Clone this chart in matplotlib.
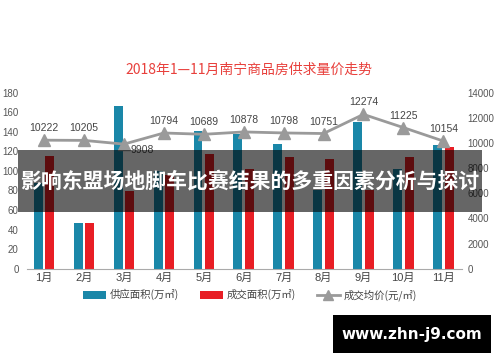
import matplotlib
matplotlib.use("Agg")
import matplotlib.pyplot as plt
from matplotlib.patches import Patch, Rectangle
from matplotlib.lines import Line2D
import numpy as np

plt.rcParams['font.family'] = ['Liberation Sans', 'Noto Sans CJK SC', 'DejaVu Sans']

months = ["1月", "2月", "3月", "4月", "5月", "6月", "7月", "8月", "9月", "10月", "11月"]
supply = [88, 47, 166, 100, 141, 138, 128, 80, 150, 102, 126]
sold = [115, 47, 79, 96, 117, 102, 114, 112, 80, 114, 124]
price = [10222, 10205, 9908, 10794, 10689, 10878, 10798, 10751, 12274, 11225, 10154]
left_ticks = [0, 20, 40, 60, 80, 100, 120, 140, 160, 180]
right_ticks = [0, 2000, 4000, 6000, 8000, 10000, 12000, 14000]

title = "2018年1—11月南宁商品房供求量价走势"
legend_labels = ["供应面积(万㎡)", "成交面积(万㎡)", "成交均价(元/㎡)"]
overlay_text = "影响东盟场地脚车比赛结果的多重因素分析与探讨"
watermark = "www.zhn-j9.com"

BLUE = "#1a87a8"
RED = "#e81e25"
GRAY = "#9a9a9a"
TXT = "#555555"

fig = plt.figure(figsize=(5, 3.62), dpi=100)
ax = fig.add_axes([0.054, 0.2577, 0.87, 0.4863])
ax2 = ax.twinx()

x = np.arange(len(months))
w = 0.225
off = 0.145
ax.bar(x - off, supply, width=w, color=BLUE, zorder=2)
ax.bar(x + off, sold, width=w, color=RED, zorder=2)

ax.set_ylim(0, 180)
ax.set_yticks(left_ticks)
ax.set_xlim(-0.43, 10.47)
ax.set_xticks(x)
ax.set_xticklabels(months, fontsize=8, color="#444444")
ax.tick_params(axis='x', length=0, pad=3)
ax.tick_params(axis='y', length=0, pad=6, labelsize=7, labelcolor=TXT)
for s in ['top', 'right', 'left']:
    ax.spines[s].set_visible(False)
ax.spines['bottom'].set_color("#aaaaaa")

ax2.set_ylim(0, 14000)
ax2.set_yticks(right_ticks)
ax2.tick_params(axis='y', length=0, pad=4, labelsize=7, labelcolor=TXT)
for s in ['top', 'right', 'left', 'bottom']:
    ax2.spines[s].set_visible(False)

ax2.plot(x, price, color=GRAY, lw=2, marker='^', markersize=8, zorder=3)
for i, v in enumerate(price):
    if i == 2:
        ax2.annotate(str(v), (x[i], v), xytext=(13, -4), textcoords='offset points',
                     ha='center', va='center', fontsize=7.5, color="#444444")
    else:
        ax2.annotate(str(v), (x[i], v), xytext=(0, 5), textcoords='offset points',
                     ha='center', va='bottom', fontsize=7.5, color="#444444")

fig.text(0.497, 1 - 70 / 362, title, ha='center', va='center', fontsize=10,
         color="#e8403c", family=['Noto Sans CJK SC', 'DejaVu Sans'])

handles = [Patch(facecolor=BLUE), Patch(facecolor=RED),
           Line2D([0], [0], color=GRAY, lw=2, marker='^', markersize=7)]
fig.legend(handles, legend_labels, loc='center', bbox_to_anchor=(0.5, 1 - 295 / 362),
           ncol=3, frameon=False, fontsize=7.5, handlelength=2.2, handleheight=0.8,
           columnspacing=2.0, handletextpad=0.4, labelcolor="#444444",
           prop={'family': ['Noto Sans CJK SC', 'DejaVu Sans'], 'size': 7.5})

# overlay band
fig.patches.append(Rectangle((18 / 500, 1 - 212 / 362), 464 / 500, 62 / 362,
                             transform=fig.transFigure, facecolor='black', alpha=0.6,
                             zorder=10))
fig.text(0.5, 1 - 181 / 362, overlay_text, ha='center', va='center', fontsize=15,
         color='white', fontweight='bold', zorder=11,
         family=['Noto Sans CJK SC', 'DejaVu Sans'])

# watermark box
fig.patches.append(Rectangle((333 / 500, 1 - 353 / 362), 158 / 500, 38 / 362,
                             transform=fig.transFigure, facecolor='black', zorder=10))
fig.text(412 / 500, 1 - 334 / 362, watermark, ha='center', va='center', fontsize=11,
         color='white', fontweight='bold', zorder=11, family='DejaVu Sans')

fig.savefig("out.png", dpi=100)
